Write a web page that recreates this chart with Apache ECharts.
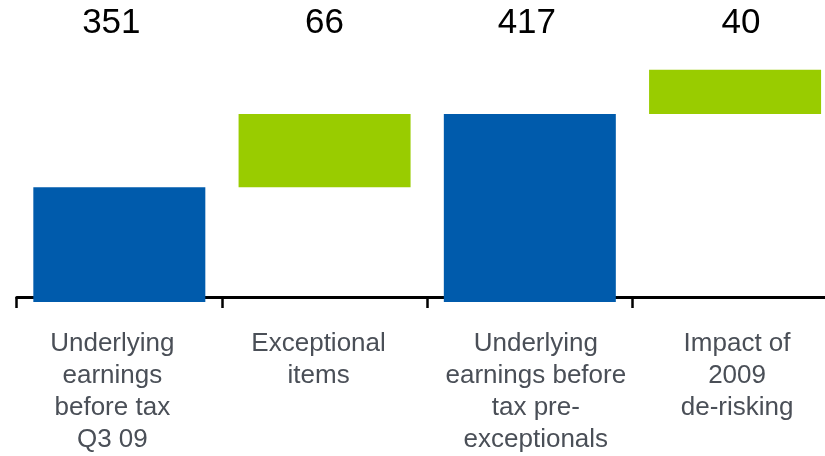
<!DOCTYPE html>
<html>
<head>
<meta charset="utf-8">
<script src="https://cdn.jsdelivr.net/npm/echarts@6/dist/echarts.min.js"></script>
<style>
html,body{margin:0;padding:0;background:#fff;overflow:hidden;width:825px;height:456px;}
#chart{width:840px;height:456px;}
</style>
</head>
<body>
<div id="chart"></div>
<script>
var categories = [
  "Underlying\nearnings\nbefore tax\nQ3 09",
  "Exceptional\nitems",
  "Underlying\nearnings before\ntax pre-\nexceptionals",
  "Impact of\n2009\nde-risking"
];
var values = [351, 66, 417, 40];
var kinds = ["total", "delta", "total", "delta"];

var BLUE = "#005BAC";
var GREEN = "#99CC00";

// small horizontal nudges of the text labels (style only)
var catLabelShift = [-7, -6, 6, 2];
var valLabelShift = [-8, 0, -3, 6];
function shiftPad(dx) {
  return dx < 0 ? [0, -2 * dx, 0, 0] : [0, 0, 0, 2 * dx];
}

// waterfall bases: totals start at 0, deltas start at running total
var bases = [];
var running = 0;
for (var i = 0; i < values.length; i++) {
  if (kinds[i] === "total") { bases.push(0); running = values[i]; }
  else { bases.push(running); running += values[i]; }
}
var visible = values.map(function (v, i) {
  return { value: v, itemStyle: { color: kinds[i] === "total" ? BLUE : GREEN } };
});

var FONT = 'Liberation Sans, Arial, sans-serif';
var catStyle = { fontFamily: FONT, fontSize: 26, lineHeight: 32, color: '#4a4f57', align: 'center', verticalAlign: 'top' };
var valStyle = { fontFamily: FONT, fontSize: 35, color: '#000', align: 'center', verticalAlign: 'middle' };
function withPad(base, dx) {
  var o = {};
  for (var k in base) o[k] = base[k];
  o.padding = shiftPad(dx);
  return o;
}

var chart = echarts.init(document.getElementById('chart'), null, { renderer: 'canvas' });
chart.setOption({
  animation: false,
  backgroundColor: '#ffffff',
  grid: {
    left: 16.7, top: 21.9, width: 821, bottom: 154,
    containLabel: false,
    outerBoundsMode: 'none'
  },
  xAxis: [{
    type: 'category',
    data: categories.map(function (c, i) {
      return { value: c, textStyle: withPad(catStyle, catLabelShift[i]) };
    }),
    position: 'bottom',
    offset: -4.5,
    axisLine: { show: true, lineStyle: { color: '#000', width: 3 } },
    axisTick: { show: true, length: 10.5, lineStyle: { color: '#000', width: 2.5 } },
    axisLabel: Object.assign({ interval: 0, margin: 30 }, catStyle)
  }, {
    type: 'category',
    data: values.map(function (v, i) {
      return { value: String(v), textStyle: withPad(valStyle, valLabelShift[i]) };
    }),
    position: 'top',
    offset: -1.4,
    axisLine: { show: false },
    axisTick: { show: false },
    axisLabel: Object.assign({ interval: 0, margin: 0 }, valStyle)
  }],
  yAxis: {
    type: 'value',
    min: 247.7,
    max: 500,
    show: false,
    splitLine: { show: false }
  },
  series: [{
    type: 'bar',
    stack: 'wf',
    data: bases,
    barWidth: 172,
    itemStyle: { color: 'rgba(0,0,0,0)' },
    silent: true
  }, {
    type: 'bar',
    stack: 'wf',
    data: visible,
    barWidth: 172
  }]
});
</script>
</body>
</html>
